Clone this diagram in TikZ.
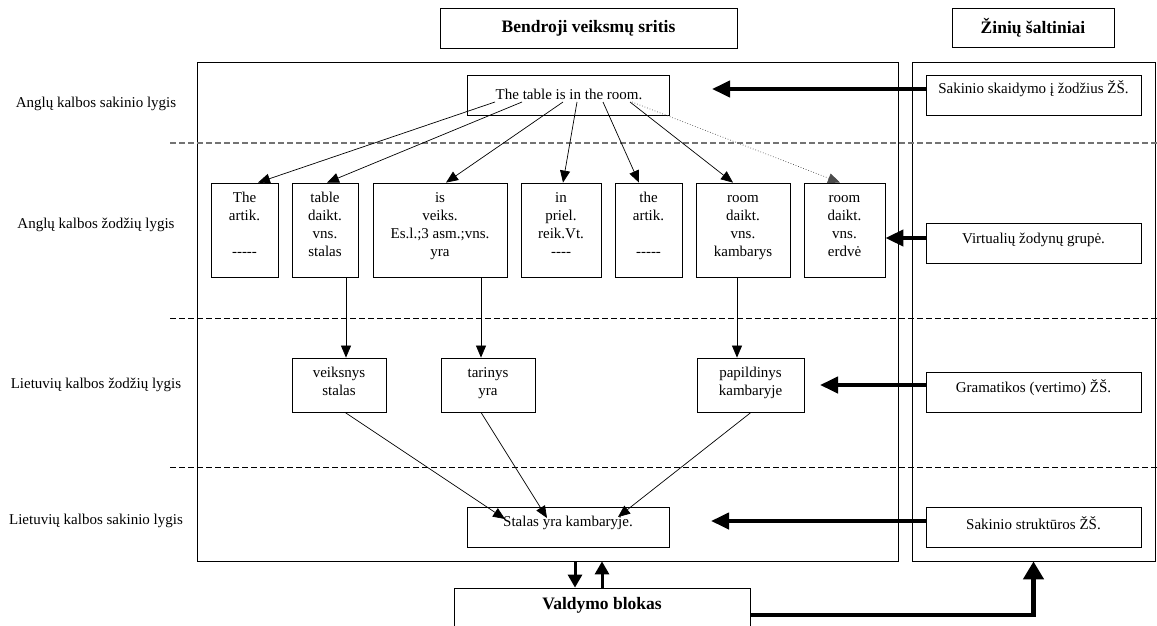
\documentclass[tikz,border=0pt]{standalone}
\usepackage{fontspec}
\setmainfont{Liberation Serif}
\usetikzlibrary{arrows.meta}
\newcommand{\dsh}{-{}}
\begin{document}
\begin{tikzpicture}[x=1pt,y=-1pt,
  box/.style={draw, line width=0.8pt, inner sep=0pt},
  txt/.style={font=\fontsize{15}{18}\selectfont, align=center, inner sep=0pt},
  hdr/.style={font=\fontsize{17.5}{21}\selectfont\bfseries, inner sep=0pt},
  conn/.style={line width=0.7pt, -{Triangle[length=12pt,width=10pt]}},
  dotconn/.style={line width=0.7pt, dotted, draw=black!70, -{Triangle[length=12pt,width=10pt]}},
  bigarrow/.style={line width=4pt, -{Triangle[length=18pt,width=16pt]}},
  midarrow/.style={line width=3pt, -{Triangle[length=13pt,width=14pt]}},
  lvl/.style={line width=0.8pt, dash pattern=on 6pt off 3pt},
  lvlgray/.style={line width=1.4pt, draw=black!55, dash pattern=on 6pt off 3pt}
]
\useasboundingbox (0,0) rectangle (1157,626);
\clip (0,0) rectangle (1157,626);

% headers
\node[box, minimum width=297pt, minimum height=40pt] (hb) at (588.5,28) {};
\node[hdr] (hbt) at (588.5,28) {Bendroji veiksmų sritis};
\node[box, minimum width=162pt, minimum height=39pt] (hz) at (1033,27.5) {};
\node[hdr] (hzt) at (1033,27.5) {Žinių šaltiniai};

% big frames
\node[box, minimum width=701pt, minimum height=499pt] (main) at (547.5,311.5) {};
\node[box, minimum width=243pt, minimum height=499pt] (R) at (1033.5,311.5) {};

% level lines
\draw[lvlgray] (170,143) -- (1157,143);
\draw[lvl] (170,318) -- (1157,318);
\draw[lvl] (170,467) -- (1157,467);

% level labels
\node[txt] (lab1) at (96,104) {Anglų kalbos sakinio lygis};
\node[txt] (lab2) at (96,225) {Anglų kalbos žodžių lygis};
\node[txt] (lab3) at (96,385) {Lietuvių kalbos žodžių lygis};
\node[txt] (lab4) at (96,521) {Lietuvių kalbos sakinio lygis};

% top sentence
\node[box, minimum width=202pt, minimum height=40pt] (top) at (568,95) {};
\node[txt] (topt) at (569,94) {The table is in the room.};

% word boxes
\node[box, minimum width=67pt, minimum height=94pt] (w1) at (244.5,230) {};
\node[box, minimum width=66pt, minimum height=94pt] (w2) at (325,230) {};
\node[box, minimum width=134pt, minimum height=94pt] (w3) at (440,230) {};
\node[box, minimum width=80pt, minimum height=94pt] (w4) at (561,230) {};
\node[box, minimum width=67pt, minimum height=94pt] (w5) at (648.5,230) {};
\node[box, minimum width=94pt, minimum height=94pt] (w6) at (743,230) {};
\node[box, minimum width=81pt, minimum height=94pt] (w7) at (844.5,230) {};
\node[txt, anchor=north] (w1t) at (244.5,189.4) {\strut The\\artik.\\\mbox{}\\\dsh\dsh\dsh\dsh\dsh};
\node[txt, anchor=north] (w2t) at (325,189.4) {\strut table\\daikt.\\vns.\\stalas};
\node[txt, anchor=north] (w3t) at (440,189.4) {\strut is\\veiks.\\Es.l.;3 asm.;vns.\\yra};
\node[txt, anchor=north] (w4t) at (561,189.4) {\strut in\\priel.\\reik.Vt.\\\dsh\dsh\dsh\dsh};
\node[txt, anchor=north] (w5t) at (648.5,189.4) {\strut the\\artik.\\\mbox{}\\\dsh\dsh\dsh\dsh\dsh};
\node[txt, anchor=north] (w6t) at (743,189.4) {\strut room\\daikt.\\vns.\\kambarys};
\node[txt, anchor=north] (w7t) at (844.5,189.4) {\strut room\\daikt.\\vns.\\erdvė};

% Lithuanian word boxes
\node[box, minimum width=94pt, minimum height=54pt] (l1) at (339,385) {};
\node[box, minimum width=94pt, minimum height=54pt] (l2) at (488,385) {};
\node[box, minimum width=107pt, minimum height=54pt] (l3) at (750.5,385) {};
\node[txt, anchor=north] (l1t) at (339,364.4) {\strut veiksnys\\stalas};
\node[txt, anchor=north] (l2t) at (488,364.4) {\strut tarinys\\yra};
\node[txt, anchor=north] (l3t) at (750.5,364.4) {\strut papildinys\\kambaryje};

% Lithuanian sentence
\node[box, minimum width=202pt, minimum height=40pt] (ls) at (568,527) {};
\node[txt] (lst) at (568,523) {Stalas yra kambaryje.};

% knowledge sources
\node[box, minimum width=215pt, minimum height=40pt] (k1) at (1033.5,95) {};
\node[txt] (k1t) at (1033.5,89) {Sakinio skaidymo į žodžius ŽŠ.};
\node[box, minimum width=215pt, minimum height=40pt] (k2) at (1033.5,243) {};
\node[txt] (k2t) at (1033.5,240) {Virtualių žodynų grupė.};
\node[box, minimum width=215pt, minimum height=40pt] (k3) at (1033.5,392) {};
\node[txt] (k3t) at (1033.5,388) {Gramatikos (vertimo) ŽŠ.};
\node[box, minimum width=215pt, minimum height=40pt] (k4) at (1033.5,527) {};
\node[txt] (k4t) at (1033.5,523) {Sakinio struktūros ŽŠ.};

% control block
\node[box, minimum width=296pt, minimum height=64pt] (vb) at (602,620) {};
\node[hdr] (vbt) at (602,605) {Valdymo blokas};

% coordinates
\coordinate (s1) at (495,102);
\coordinate (s2) at (522,102);
\coordinate (s3) at (563,102);
\coordinate (s4) at (577,102);
\coordinate (s5) at (603,102);
\coordinate (s6) at (630,102);
\coordinate (s7) at (632,102);
\coordinate (e1) at (258,0);
\coordinate (e2) at (327,0);
\coordinate (e3) at (446,0);
\coordinate (e4) at (563,0);
\coordinate (e5) at (639,0);
\coordinate (e6) at (733,0);
\coordinate (e7) at (840,0);
\coordinate (x1) at (346,0);
\coordinate (x2) at (481,0);
\coordinate (x3) at (737,0);
\coordinate (y1) at (345,0);
\coordinate (y3) at (751,0);
\coordinate (f1) at (505,519);
\coordinate (f2) at (547,518);
\coordinate (f3) at (618,517);
\coordinate (a1) at (712,89);
\coordinate (a2) at (0,238);
\coordinate (a3) at (820,385);
\coordinate (a4) at (711,521);
\coordinate (d1) at (575,0);
\coordinate (d2) at (602,0);
\coordinate (c615) at (0,615);

% sentence to words
\draw[conn] (s1) -- (w1.north -| e1);
\draw[conn] (s2) -- (w2.north -| e2);
\draw[conn] (s3) -- (w3.north -| e3);
\draw[conn] (s4) -- (w4.north -| e4);
\draw[conn] (s5) -- (w5.north -| e5);
\draw[conn] (s6) -- (w6.north -| e6);
\draw[dotconn] (s7) -- (w7.north -| e7);

% words to Lithuanian words
\draw[conn] (w2.south -| x1) -- (l1.north -| x1);
\draw[conn] (w3.south -| x2) -- (l2.north -| x2);
\draw[conn] (w6.south -| x3) -- (l3.north -| x3);

% Lithuanian words to sentence
\draw[conn] (l1.south -| y1) -- (f1);
\draw[conn] (l2.south -| x2) -- (f2);
\draw[conn] (l3.south -| y3) -- (f3);

% knowledge source arrows
\draw[bigarrow] (k1.west |- a1) -- (a1);
\draw[bigarrow] (k2.west |- a2) -- (w7.east |- a2);
\draw[bigarrow] (k3.west |- a3) -- (a3);
\draw[bigarrow] (k4.west |- a4) -- (a4);

% control arrows
\draw[midarrow] (main.south -| d1) -- (vb.north -| d1);
\draw[midarrow] (vb.north -| d2) -- (main.south -| d2);
\draw[line width=4.5pt, -{Triangle[length=18pt,width=20pt]}] (vb.east |- c615) -| (R.south);
\end{tikzpicture}
\end{document}
